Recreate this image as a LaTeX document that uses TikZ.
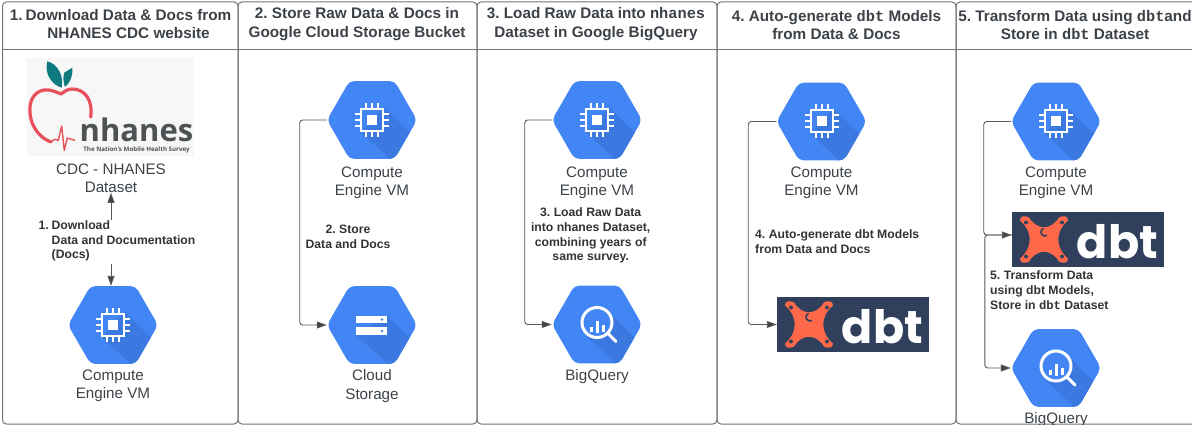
\documentclass[tikz,border=0pt]{standalone}
\usepackage{fontspec}
\setmainfont{Liberation Sans}
\setmonofont{Liberation Mono}
\newfontfamily\logofont{Open Sans}
\newfontfamily\dbtfont{Poppins}
\usetikzlibrary{arrows.meta,shapes.geometric}
\definecolor{inkgray}{HTML}{3C4248}
\definecolor{lanegray}{HTML}{70757A}
\definecolor{gcpblue}{HTML}{4285F4}
\definecolor{gcpshade}{HTML}{3B78E0}
\definecolor{dbtnavy}{HTML}{2F3F5C}
\definecolor{dbtorange}{HTML}{FF694A}
\definecolor{applered}{HTML}{E8505B}
\definecolor{leafteal}{HTML}{0F7B80}
\definecolor{logogray}{HTML}{4D5355}
\frenchspacing
\tikzset{
    lanebox/.style={rectangle, draw=lanegray, line width=1pt, rounded corners=4pt,
        minimum width=#1, minimum height=422pt, inner sep=0pt},
    lanetitle/.style={align=center, text=inkgray, inner sep=0pt,
        font=\fontsize{15.3}{18.4}\selectfont\bfseries},
    caption/.style={align=center, text=inkgray, inner sep=0pt,
        font=\fontsize{15.2}{18.4}\selectfont},
    steplabel/.style={text=black!80, inner sep=0pt,
        font=\fontsize{12.2}{14.8}\selectfont\bfseries},
    flow/.style={draw=black!65, line width=.9pt, rounded corners=3pt,
        -{Triangle[length=10pt,width=7pt,fill=inkgray]}},
    hexnode/.style={regular polygon, regular polygon sides=6,
        minimum size=90pt, inner sep=0pt, fill=gcpblue, rounded corners=5pt},
    vmhex/.style={hexnode, path picture={
        \begin{scope}[sharp corners, shift={(path picture bounding box.center)}]
          \fill[gcpshade] (12,-13) -- (60,35) -- (60,60) -- (40,60) -- (-11,12) -- cycle;
          \draw[white, line width=2pt] (-11,-11) rectangle (11,11);
          \fill[white] (-5,-5) rectangle (5,5);
          \foreach \p in {-6,0,6} {
            \draw[white, line width=2pt] (\p,-17) -- (\p,-11);
            \draw[white, line width=2pt] (\p,11) -- (\p,17);
            \draw[white, line width=2pt] (-17,\p) -- (-11,\p);
            \draw[white, line width=2pt] (11,\p) -- (17,\p);
          }
        \end{scope}}},
    gcshex/.style={hexnode, path picture={
        \begin{scope}[sharp corners, shift={(path picture bounding box.center)}]
          \fill[gcpshade] (15,-9) -- (60,36) -- (60,60) -- (40,60) -- (-16,10) -- cycle;
          \fill[white] (-16,-9) rectangle (15,-2);
          \fill[white] (-16,2) rectangle (15,10);
          \fill[gcpblue] (10,-5.5) circle (1.3);
          \fill[gcpblue] (10,6) circle (1.3);
        \end{scope}}},
    bqhex/.style={hexnode, path picture={
        \begin{scope}[sharp corners, shift={(path picture bounding box.center)}]
          \fill[gcpshade] (11,-13) -- (60,36) -- (60,60) -- (40,60) -- (-12,10) -- cycle;
          \fill[gcpblue] (0,-2) circle (15);
          \draw[white, line width=3pt] (0,-2) circle (15);
          \draw[white, line width=3pt, line cap=round] (11,9) -- (19,17);
          \fill[white] (-7.5,2) rectangle (-4.5,7);
          \fill[white] (-1.5,-4) rectangle (1.5,8);
          \fill[white] (4.5,0) rectangle (7.5,7);
        \end{scope}}},
    dbtbox/.style={rectangle, minimum width=152pt, minimum height=55pt, inner sep=0pt,
        fill=dbtnavy},
    dbttext/.style={inner sep=0pt, anchor=east, text=white,
        font=\fontsize{46}{46}\selectfont\dbtfont\bfseries}
}
\newcommand{\dbtmark}[1]{
  \begin{scope}[shift={([xshift=-44pt]#1.center)}]
    \fill[dbtorange] (-24,-19) .. controls (-24,-24) and (-19,-24) .. (-15,-22)
      .. controls (-7,-9) and (7,-9) .. (15,-22)
      .. controls (19,-24) and (24,-24) .. (24,-19)
      .. controls (11,-8) and (11,8) .. (24,19)
      .. controls (24,24) and (19,24) .. (15,22)
      .. controls (7,9) and (-7,9) .. (-15,22)
      .. controls (-19,24) and (-24,24) .. (-24,19)
      .. controls (-11,8) and (-11,-8) .. (-24,-19) -- cycle;
    \foreach \cx/\cy in {-18/-17,18/-17,-18/17,18/17}
      \fill[dbtnavy] (\cx,\cy) circle (2);
    \draw[dbtnavy, line width=1.6pt] (3,-4) arc (60:250:4);
  \end{scope}
}
\begin{document}
\begin{tikzpicture}[x=1pt,y=-1pt]
  \useasboundingbox (0,0) rectangle (1192,425);

  % lanes
  \node (lane1) [lanebox=235.5pt] at (120.25,213) {};
  \node (lane2) [lanebox=239pt] at (357.5,213) {};
  \node (lane3) [lanebox=240pt] at (597,213) {};
  \node (lane4) [lanebox=239pt] at (836.5,213) {};
  \node (lane5) [lanebox=250pt] at (1081,213) {};
  \draw[lanegray, line width=1pt] (lane1.west |- 0,49.5) -- (lane5.east |- 0,49.5);

  \node (title1) [lanetitle] at (128.5,24) {\llap{1.\hspace{3pt}}Download Data \& Docs from\\NHANES CDC website};
  \node (title2) [lanetitle] at (357,24) {2. Store Raw Data \& Docs in\\Google Cloud Storage Bucket};
  \node (title3) [lanetitle] at (596,24) {3. Load Raw Data into \texttt{nhanes}\\Dataset in Google BigQuery};
  \node (title4) [lanetitle] at (836.5,25) {4. Auto-generate \texttt{dbt} Models\\from Data \& Docs};
  \node (title5) [lanetitle] at (1075,25) {5. Transform Data using \texttt{dbt}and\\Store in \texttt{dbt} Dataset};

  % nhanes logo
  \fill[black!3] (27,58) rectangle (194,156);
  \fill[leafteal] (47.3,61.3) .. controls (58,64) and (64,76) .. (61.7,87.7)
    .. controls (52,85) and (44,74) .. (47.3,61.3) -- cycle;
  \fill[leafteal] (72.3,67.7) .. controls (73,76) and (70,83) .. (65,87)
    .. controls (63,82) and (63,76) .. (64.3,72.7) -- cycle;
  \draw[applered, line width=3.2pt, line cap=round, line join=round]
    (90.7,117) .. controls (93,100) and (85,89) .. (72,89)
    .. controls (67,89) and (64,92) .. (61,94) .. controls (56,92) and (50,89) .. (44,90)
    .. controls (33,92) and (29,102) .. (30,113) .. controls (31,127) and (40,138) .. (51,142);
  \draw[applered, line width=1.4pt, line join=round]
    (51,142) -- (55,139.3) -- (58.3,140.3) -- (61.7,126) -- (64.3,150.3) -- (67.3,138) -- (75,140.3);
  \node (nhlogo) [inner sep=0pt, text=logogray, font=\fontsize{31}{31}\selectfont\logofont\bfseries] at (136.5,130) {nhanes};
  \node (nhsub) [inner sep=0pt, text=logogray, font=\fontsize{6.2}{7}\selectfont\logofont\bfseries] at (136.5,150) {The Nation's Mobile Health Survey};
  \node (cdc) [caption] at (111,178) {CDC - NHANES\\Dataset};

  % lane 1
  \node (vm1) [vmhex] at (113,325) {};
  \node (vm1txt) [caption] at (113,386) {Compute\\Engine VM};
  \draw[flow] (cdc.south |- 0,264) -- (cdc.south |- vm1.north);
  \draw[flow] (cdc.south |- 0,220) -- (cdc.south);
  \node (step1) [steplabel, align=left, anchor=west] at (51.5,241) {\llap{1.\hspace{3pt}}Download\\Data and Documentation\\(Docs)};

  % lane 2
  \node (vm2) [vmhex] at (372,120) {};
  \node (vm2txt) [caption] at (372,182.5) {Compute\\Engine VM};
  \node (gcs) [gcshex] at (372,325) {};
  \node (gcstxt) [caption] at (372,386) {Cloud\\Storage};
  \draw[flow] (vm2.west) -- ++(-27,0) |- (gcs.west);
  \node (step2) [steplabel, align=center] at (348,236.5) {2. Store\\Data and Docs};

  % lane 3
  \node (vm3) [vmhex] at (597,120) {};
  \node (vm3txt) [caption] at (597,182.5) {Compute\\Engine VM};
  \node (bq3) [bqhex] at (597,324.5) {};
  \node (bq3txt) [caption] at (597,377) {BigQuery};
  \draw[flow] (vm3.west) -- ++(-27,0) |- (bq3.west);
  \node (step3) [steplabel, align=center] at (590.7,235.5) {3. Load Raw Data\\into nhanes Dataset,\\combining years of\\same survey.};

  % lane 4
  \node (vm4) [vmhex] at (821.5,121.5) {};
  \node (vm4txt) [caption] at (821.5,182.5) {Compute\\Engine VM};
  \node (dbt4) [dbtbox] at (853,324.5) {};
  \dbtmark{dbt4}
  \node (dbt4txt) [dbttext] at ([xshift=-6pt,yshift=-2pt]dbt4.east) {dbt};
  \draw[flow] (vm4.west) -- ++(-28,0) |- (dbt4.west);
  \node (step4) [steplabel, align=left, anchor=west] at (755,242) {4. Auto-generate dbt Models\\from Data and Docs};

  % lane 5
  \node (vm5) [vmhex] at (1056,121.5) {};
  \node (vm5txt) [caption] at (1056,182.5) {Compute\\Engine VM};
  \node (dbt5) [dbtbox] at (1088,239.5) {};
  \dbtmark{dbt5}
  \node (dbt5txt) [dbttext] at ([xshift=-6pt,yshift=-2pt]dbt5.east) {dbt};
  \node (bq5) [bqhex] at (1056,368) {};
  \node (bq5txt) [caption] at (1056,420) {BigQuery};
  \draw[flow] (vm5.west) -- ++(-27,0) |- ([yshift=4.5pt]dbt5.west);
  \draw[flow] ([yshift=4.5pt]dbt5.west) -- ++(-27,0) |- (bq5.west);
  \node (step5) [steplabel, align=left, anchor=west] at (990,290) {5. Transform Data\\using dbt Models,\\Store in \texttt{dbt} Dataset};
\end{tikzpicture}
\end{document}
